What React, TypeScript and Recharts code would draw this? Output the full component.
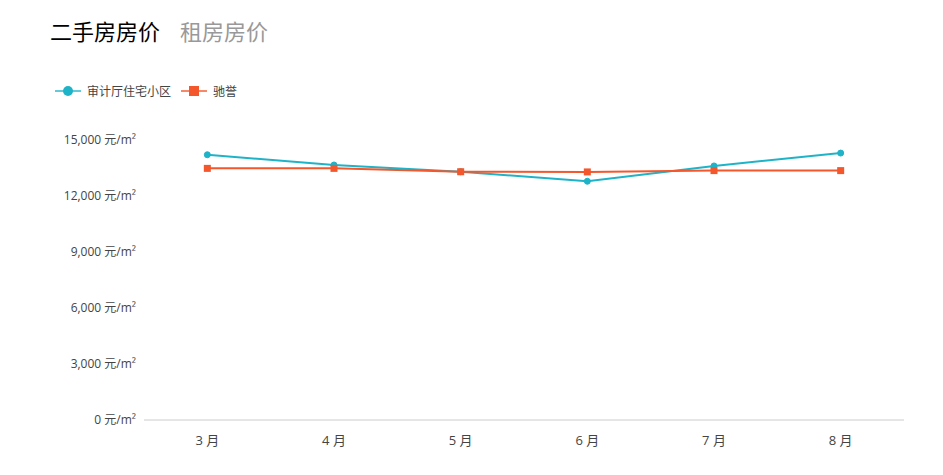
import React from 'react';
import { LineChart, Line, XAxis, YAxis } from 'recharts';

const months = ['3 月', '4 月', '5 月', '6 月', '7 月', '8 月'];
const communityPrices = [14210, 13660, 13300, 12790, 13610, 14300];
const chiyuPrices = [13480, 13480, 13300, 13290, 13360, 13360];
const yTicks = [0, 3000, 6000, 9000, 12000, 15000];
const seriesNames = ['审计厅住宅小区', '驰誉'];

const BLUE = '#1fb3c8';
const RED = '#f4572c';
const FONT = '"Noto Sans CJK SC", "Noto Sans", sans-serif';
const TICK_FONT = '"Open Sans", "Noto Sans CJK SC", sans-serif';

const data = months.map((m, i) => ({
  month: m,
  a: communityPrices[i],
  b: chiyuPrices[i],
}));

const fmt = (v: number) => `${v.toLocaleString('en-US')} 元/m²`;

const SquareDot = (props: any) => {
  const { cx, cy } = props;
  if (cx == null || cy == null) return null;
  return <rect x={cx - 3.5} y={cy - 3.5} width={7} height={7} fill={RED} />;
};

const LegendItem = ({ color, shape, label }: { color: string; shape: 'circle' | 'square'; label: string }) => (
  <div style={{ display: 'flex', alignItems: 'center', marginRight: 10 }}>
    <svg width={26} height={14} style={{ marginRight: 6 }}>
      <line x1={0} y1={7} x2={26} y2={7} stroke={color} strokeOpacity={0.7} strokeWidth={2} />
      {shape === 'circle' ? (
        <circle cx={13} cy={7} r={5} fill={color} />
      ) : (
        <rect x={8} y={2} width={10} height={10} fill={color} />
      )}
    </svg>
    <span style={{ fontSize: 12, color: '#444' }}>{label}</span>
  </div>
);

export default function App() {
  return (
    <div style={{ position: 'absolute', left: 0, top: 0, width: 943, height: 475, fontFamily: FONT, background: '#fff' }}>
      <div style={{ position: 'absolute', left: 50, top: 14, fontSize: 22, lineHeight: '32px', whiteSpace: 'nowrap' }}>
        <span style={{ color: '#000' }}>二手房房价</span>
        <span style={{ color: '#999', marginLeft: 20 }}>租房房价</span>
      </div>
      <div style={{ position: 'absolute', left: 55, top: 83, display: 'flex', alignItems: 'center', lineHeight: '16px' }}>
        <LegendItem color={BLUE} shape="circle" label={seriesNames[0]} />
        <LegendItem color={RED} shape="square" label={seriesNames[1]} />
      </div>
      <LineChart
        width={943}
        height={475}
        data={data}
        margin={{ top: 140, right: 39, bottom: 25, left: 0 }}
        style={{ position: 'absolute', left: 0, top: 0 }}
      >
        <XAxis
          dataKey="month"
          scale="band"
          height={30}
          tickLine={false}
          axisLine={{ stroke: '#ccc' }}
          tickMargin={10}
          tick={{ fontSize: 13, fill: '#444', fontFamily: TICK_FONT }}
        />
        <YAxis
          width={144}
          domain={[0, 15000]}
          ticks={yTicks}
          tickFormatter={fmt}
          axisLine={false}
          tickLine={false}
          tick={{ fontSize: 12, fill: '#444', fontFamily: TICK_FONT }}
        />
        <Line
          type="linear"
          dataKey="a"
          name={seriesNames[0]}
          stroke={BLUE}
          strokeWidth={2}
          dot={{ r: 3, fill: BLUE, stroke: BLUE, strokeWidth: 1 }}
          isAnimationActive={false}
        />
        <Line
          type="linear"
          dataKey="b"
          name={seriesNames[1]}
          stroke={RED}
          strokeWidth={2}
          dot={<SquareDot />}
          isAnimationActive={false}
        />
      </LineChart>
    </div>
  );
}
